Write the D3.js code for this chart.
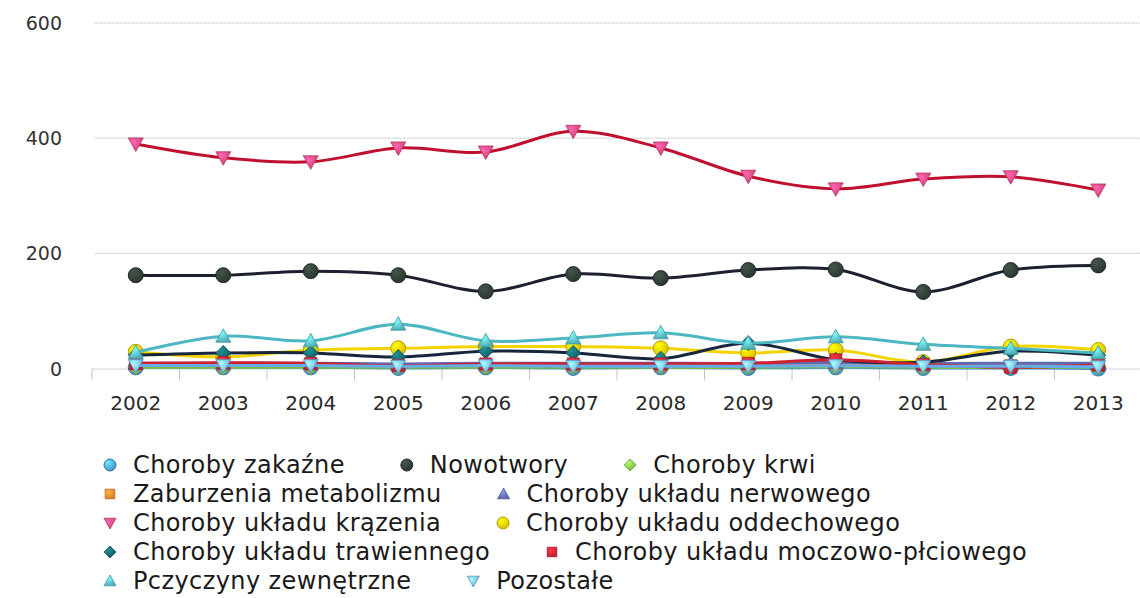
<!DOCTYPE html>
<html>
<head>
<meta charset="utf-8">
<script src="https://cdn.jsdelivr.net/npm/d3@7/dist/d3.min.js"></script>
<style>
  body { margin: 0; background: #fff; }
  svg { display: block; font-family: "DejaVu Sans", sans-serif; }
</style>
</head>
<body>
<div id="chart"></div>
<script>
// years on the x axis
var years = ["2002","2003","2004","2005","2006","2007","2008","2009","2010","2011","2012","2013"];
var yTicks = [0, 200, 400, 600];

var seriesNames = [
  "Choroby zakaźne", "Nowotwory", "Choroby krwi", "Zaburzenia metabolizmu",
  "Choroby układu nerwowego", "Choroby układu krązenia", "Choroby układu oddechowego",
  "Choroby układu trawiennego", "Choroby układu moczowo-płciowego",
  "Pczyczyny zewnętrzne", "Pozostałe"
];

// values
var zakazne      = [2, 2, 2, 1, 2, 1, 2, 1, 2, 1, 1, 0];
var nowotwory    = [162, 162, 169, 162, 134, 164, 157, 171, 172, 133, 171, 179];
var krwi         = [2, 2, 2, 2, 2, 2, 2, 2, 3, 2, 2, 2];
var metabolizm   = [7, 7, 7, 5, 6, 6, 6, 7, 9, 6, 5, 6];
var nerwowy      = [9, 9, 9, 8, 9, 9, 9, 9, 11, 9, 9, 9];
var krazenie     = [390, 366, 359, 383, 376, 412, 383, 334, 312, 329, 333, 310];
var oddechowy    = [29, 20, 32, 35, 38, 38, 35, 27, 32, 11, 38, 32];
var trawienny    = [23, 27, 27, 20, 30, 27, 17, 44, 15, 11, 30, 23];
var moczowy      = [9, 10, 9, 5, 8, 8, 8, 9, 15, 7, 2, 6];
var zewnetrzne   = [28, 56, 48, 77, 48, 53, 62, 44, 55, 42, 35, 27];
var pozostale    = [5, 5, 5, 4, 5, 4, 4, 4, 5, 4, 4, 3];

var allValues = [zakazne, nowotwory, krwi, metabolizm, nerwowy, krazenie,
                 oddechowy, trawienny, moczowy, zewnetrzne, pozostale];

var lineColors   = ["#3b8fd6", "#1c2030", "#79bf3c", "#ef7a22", "#5d69b3", "#c0102f",
                    "#f3d400", "#17253d", "#d0202c", "#4cb7c2", "#67acea"];
var markerColors = ["#4a9ee0", "#2e3b33", "#7cc547", "#f0802a", "#5f6cb8", "#e2457a",
                    "#f2d000", "#14636a", "#d42432", "#56bcc6", "#72b6ec"];
var markerShapes = ["circle", "circle", "diamond", "square", "triangle", "triangleDown",
                    "circle", "diamond", "square", "triangle", "triangleDown"];

var width = 1140, height = 598;
var margin = {top: 23, left: 92, bottom: 229.5};
var plotRight = 1142;

var svg = d3.select("#chart").append("svg")
    .attr("width", width)
    .attr("height", height);

var defs = svg.append("defs");
markerColors.forEach(function(c, i) {
    var g = defs.append("radialGradient")
        .attr("id", "grad" + i)
        .attr("cx", "35%").attr("cy", "30%").attr("r", "75%");
    g.append("stop").attr("offset", "0%").attr("stop-color", d3.color(c).brighter(1.1));
    g.append("stop").attr("offset", "100%").attr("stop-color", d3.color(c).darker(0.3));
});

var x = d3.scaleBand()
    .domain(years)
    .range([margin.left, plotRight]);

var y = d3.scaleLinear()
    .domain([0, 600])
    .range([height - margin.bottom, margin.top]);

// horizontal grid lines
svg.append("g")
    .selectAll("line")
    .data(yTicks.filter(function(d) { return d > 0; }))
    .enter().append("line")
    .attr("x1", 95)
    .attr("x2", plotRight)
    .attr("y1", function(d) { return y(d); })
    .attr("y2", function(d) { return y(d); })
    .attr("stroke", "#c9c9c9")
    .attr("stroke-width", 1)
    .attr("stroke-dasharray", "3,1");

// y labels
svg.append("g")
    .selectAll("text")
    .data(yTicks)
    .enter().append("text")
    .attr("x", 62)
    .attr("y", function(d) { return y(d) + 7; })
    .attr("text-anchor", "end")
    .attr("font-size", 19)
    .attr("fill", "#333")
    .text(function(d) { return d; });

// x axis
var xAxis = svg.append("g")
    .attr("transform", "translate(0," + y(0) + ")")
    .call(d3.axisBottom(x).tickSize(0).tickPadding(27));
xAxis.select(".domain").attr("stroke", "#bcc6d0").attr("stroke-dasharray", "3,1");
xAxis.selectAll("text")
    .attr("font-family", "DejaVu Sans, sans-serif")
    .attr("font-size", 20)
    .attr("fill", "#2a2a2a");

// tick marks between categories
svg.append("g")
    .selectAll("line")
    .data(years)
    .enter().append("line")
    .attr("x1", function(d) { return x(d); })
    .attr("x2", function(d) { return x(d); })
    .attr("y1", y(0))
    .attr("y2", y(0) + 12)
    .attr("stroke", "#bcc6d0")
    .attr("stroke-width", 1);

function markerPath(shape, size) {
    var s = size;
    if (shape === "triangle") return "M0," + (-s) + "L" + s + "," + (s * 0.8) + "L" + (-s) + "," + (s * 0.8) + "Z";
    if (shape === "triangleDown") return "M0," + s + "L" + s + "," + (-s * 0.8) + "L" + (-s) + "," + (-s * 0.8) + "Z";
    if (shape === "diamond") return "M0," + (-s) + "L" + s + ",0L0," + s + "L" + (-s) + ",0Z";
    if (shape === "square") return "M" + (-s * 0.8) + "," + (-s * 0.8) + "h" + (s * 1.6) + "v" + (s * 1.6) + "h" + (-s * 1.6) + "Z";
    return null;
}

function drawMarker(g, shape, i, cx, cy, size) {
    if (shape === "circle") {
        g.append("circle")
            .attr("cx", cx).attr("cy", cy).attr("r", size)
            .attr("fill", "url(#grad" + i + ")")
            .attr("stroke", d3.color(markerColors[i]).darker(0.8))
            .attr("stroke-width", 1);
    } else {
        g.append("path")
            .attr("d", markerPath(shape, size))
            .attr("transform", "translate(" + cx + "," + cy + ")")
            .attr("fill", "url(#grad" + i + ")")
            .attr("stroke", d3.color(markerColors[i]).darker(0.6))
            .attr("stroke-width", 0.8);
    }
}

var line = d3.line()
    .x(function(d, i) { return x(years[i]) + x.bandwidth() / 2; })
    .y(function(d) { return y(d); })
    .curve(d3.curveCatmullRom.alpha(0.5));

var plot = svg.append("g");
allValues.forEach(function(vals, i) {
    var g = plot.append("g");
    g.append("path")
        .datum(vals)
        .attr("d", line)
        .attr("fill", "none")
        .attr("stroke", lineColors[i])
        .attr("stroke-width", 3);
    vals.forEach(function(v, j) {
        drawMarker(g, markerShapes[i], i, x(years[j]) + x.bandwidth() / 2, y(v), 7.5);
    });
});

// legend, flowing left to right and wrapping
var legend = svg.append("g");
var legendFont = 24;
var lx = 110, ly = 465, rowH = 29, maxX = 1110, gap = 62;
seriesNames.forEach(function(name, i) {
    var item = legend.append("g");
    var t = item.append("text")
        .attr("font-size", legendFont)
        .attr("letter-spacing", 0.4)
        .attr("fill", "#1a1a1a")
        .text(name);
    var w = t.node().getComputedTextLength();
    if (lx + 23 + w > maxX) {
        lx = 110;
        ly += rowH;
    }
    t.attr("x", lx + 23).attr("y", ly + 8);
    drawMarker(item, markerShapes[i], i, lx, ly, 6);
    lx += 23 + w + gap;
});
</script>
</body>
</html>
